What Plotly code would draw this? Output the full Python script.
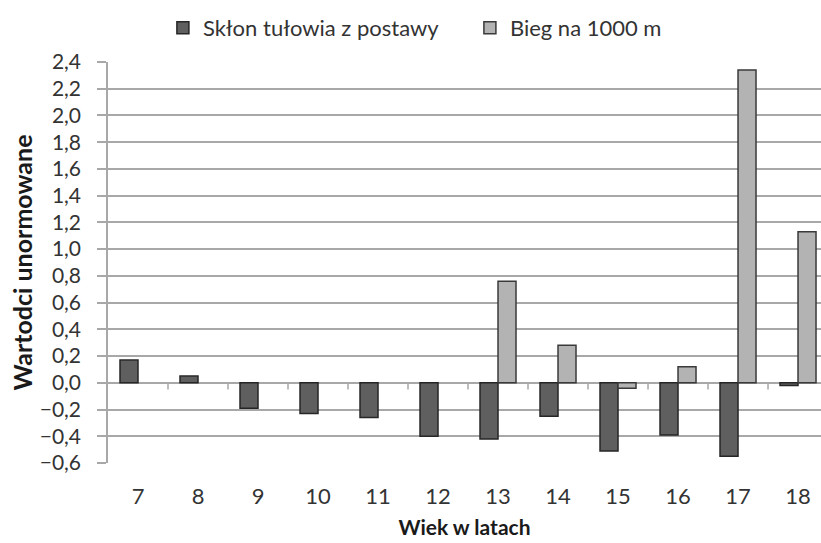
import plotly.graph_objects as go

# Age groups (years) and normalised scores for the two fitness tests
ages = ["7", "8", "9", "10", "11", "12", "13", "14", "15", "16", "17", "18"]
sklon = [0.17, 0.05, -0.19, -0.23, -0.26, -0.40, -0.42, -0.25, -0.51, -0.39, -0.55, -0.02]
bieg = [None, None, None, None, None, None, 0.76, 0.28, -0.04, 0.12, 2.34, 1.13]

y_ticks = [round(-0.6 + 0.2 * i, 1) for i in range(16)]

FONT = "Lato"
GRID = "#a8a8a8"

fig = go.Figure()
fig.add_trace(go.Bar(
    x=ages, y=sklon, name="Skłon tułowia z postawy",
    marker=dict(color="#5f5f5f", line=dict(color="#262626", width=1.5)),
))
fig.add_trace(go.Bar(
    x=ages, y=bieg, name="Bieg na 1000 m",
    marker=dict(color="#b3b3b3", line=dict(color="#3a3a3a", width=1.5)),
))

# short tick marks on the zero line between age groups
for i in range(len(ages) - 1):
    fig.add_shape(type="line", xref="x", yref="y",
                  x0=i + 0.5, x1=i + 0.5, y0=0, y1=-0.05,
                  line=dict(color=GRID, width=1.5))

fig.update_layout(
    width=821, height=543,
    margin=dict(l=108, r=0, t=62, b=80),
    paper_bgcolor="white", plot_bgcolor="white",
    separators=", ",
    barmode="group", bargap=0.4, bargroupgap=0,
    font=dict(family=FONT, color="#333333"),
    showlegend=True,
    legend=dict(orientation="h", x=0.077, xanchor="left", y=1.085, yanchor="middle",
                font=dict(family=FONT, size=22, color="#333333"),
                itemwidth=30, entrywidth=262, entrywidthmode="pixels"),
    xaxis=dict(
        type="category", range=[-0.5, 11.383],
        showgrid=False, zeroline=False, showline=False,
        ticks="", tickfont=dict(size=22, color="#333333"),
        ticklabelstandoff=18,
        title=dict(text="<b>Wiek w latach</b>", font=dict(size=21, color="#1a1a1a"), standoff=12),
    ),
    yaxis=dict(
        range=[-0.6, 2.4], tickvals=y_ticks, tickformat=".1f",
        showgrid=True, gridcolor=GRID, gridwidth=1.5,
        zeroline=False,
        showline=True, linecolor=GRID, linewidth=1.5,
        ticks="outside", ticklen=9, tickcolor=GRID, tickwidth=1.5,
        tickfont=dict(size=21, color="#333333"),
        ticklabelstandoff=12,
        title=dict(text="<b>Wartodci unormowane</b>", font=dict(size=25, color="#1a1a1a"), standoff=0),
    ),
)

fig.write_html("out.html")
